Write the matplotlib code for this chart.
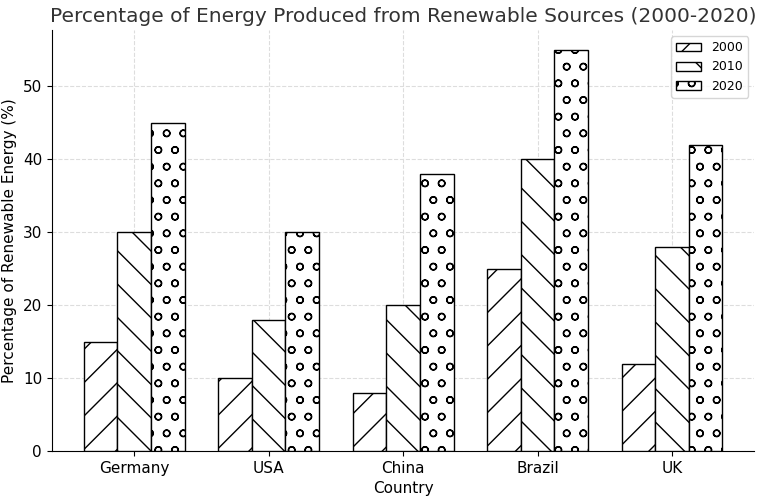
import numpy as np
import matplotlib.pyplot as plt

countries = ["Germany", "USA", "China", "Brazil", "UK"]
years = ["2000", "2010", "2020"]
values_2000 = [15, 10, 8, 25, 12]
values_2010 = [30, 18, 20, 40, 28]
values_2020 = [45, 30, 38, 55, 42]
hatches = ["/", "\\", "o"]

fig, ax = plt.subplots(figsize=(7.62, 5), dpi=100)
x = np.arange(len(countries))
width = 0.25

for i, (year, vals) in enumerate(zip(years, [values_2000, values_2010, values_2020])):
    ax.bar(x + (i - 1) * width, vals, width, label=year, color="white",
           edgecolor="black", hatch=hatches[i], zorder=3)

ax.set_xticks(x)
ax.set_xticklabels(countries)
ax.set_xlabel("Country", fontsize=11)
ax.set_ylabel("Percentage of Renewable Energy (%)", fontsize=11)
ax.set_title("Percentage of Energy Produced from Renewable Sources (2000-2020)",
             fontsize=14.5, color="#333333")
ax.grid(True, linestyle="--", color="#dddddd", linewidth=0.8, zorder=0)
ax.spines["top"].set_visible(False)
ax.spines["right"].set_visible(False)
ax.tick_params(labelsize=11)
ax.legend(loc="upper right", fontsize=9)

plt.subplots_adjust(left=0.068, right=0.99, bottom=0.098, top=0.94)
plt.savefig("out.png")
